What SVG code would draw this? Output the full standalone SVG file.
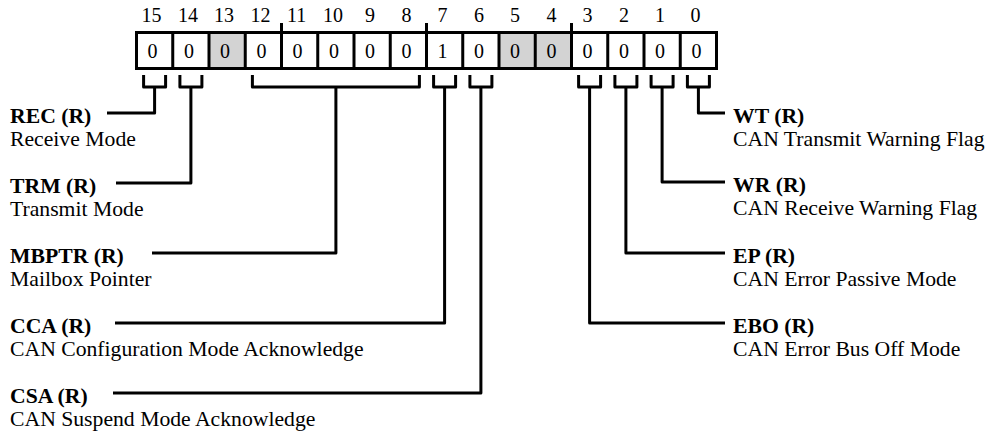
<svg xmlns="http://www.w3.org/2000/svg" width="993" height="436" viewBox="0 0 993 436">
<style>
text{font-family:"Liberation Serif","Times New Roman",serif;fill:#000}
.num{font-size:20px;text-anchor:middle}
.val{font-size:20px;text-anchor:middle}
.b{font-size:21.7px;font-weight:bold}
.d{font-size:21.7px}
.cell{fill:#fff;stroke:#000;stroke-width:3}
.res{fill:#d3d3d3}
.ln{fill:none;stroke:#000;stroke-width:3;stroke-linejoin:round}
</style>
<rect width="993" height="436" fill="#fff"/>
<g id="register">
<g id="bitnums">
<text class="num" x="151.6" y="21.5">15</text>
<text class="num" x="187.9" y="21.5">14</text>
<text class="num" x="224.1" y="21.5">13</text>
<text class="num" x="260.4" y="21.5">12</text>
<text class="num" x="296.6" y="21.5">11</text>
<text class="num" x="332.9" y="21.5">10</text>
<text class="num" x="370.1" y="21.5">9</text>
<text class="num" x="406.4" y="21.5">8</text>
<text class="num" x="442.6" y="21.5">7</text>
<text class="num" x="478.9" y="21.5">6</text>
<text class="num" x="515.1" y="21.5">5</text>
<text class="num" x="551.4" y="21.5">4</text>
<text class="num" x="587.6" y="21.5">3</text>
<text class="num" x="623.9" y="21.5">2</text>
<text class="num" x="660.1" y="21.5">1</text>
<text class="num" x="695.4" y="21.5">0</text>
</g>
<g id="cells">
<rect class="cell" x="136.5" y="32.5" width="580" height="36"/>
<rect class="res" x="209" y="32.5" width="36.25" height="36"/>
<rect class="res" x="499" y="32.5" width="72.5" height="36"/>
<path class="ln" d="M136.5 32.5H716.5V68.5H136.5Z M172.75 32.5V68.5 M209 32.5V68.5 M245.25 32.5V68.5 M281.5 23V68.5 M317.75 32.5V68.5 M354 32.5V68.5 M390.25 32.5V68.5 M426.5 23V68.5 M462.75 32.5V68.5 M499 32.5V68.5 M535.25 32.5V68.5 M571.5 23V68.5 M607.75 32.5V68.5 M644 32.5V68.5 M680.25 32.5V68.5"/>
<text class="val" x="152.6" y="58">0</text>
<text class="val" x="188.9" y="58">0</text>
<text class="val" x="225.1" y="58">0</text>
<text class="val" x="261.4" y="58">0</text>
<text class="val" x="297.6" y="58">0</text>
<text class="val" x="333.9" y="58">0</text>
<text class="val" x="370.1" y="58">0</text>
<text class="val" x="406.4" y="58">0</text>
<text class="val" x="442.6" y="58">1</text>
<text class="val" x="478.9" y="58">0</text>
<text class="val" x="515.1" y="58">0</text>
<text class="val" x="551.4" y="58">0</text>
<text class="val" x="587.6" y="58">0</text>
<text class="val" x="623.9" y="58">0</text>
<text class="val" x="660.1" y="58">0</text>
<text class="val" x="696.4" y="58">0</text>
</g>
</g>
<g id="connectors">
<path class="ln" d="M143.6 75V87H165.6V75 M154.6 87V113H107"/>
<path class="ln" d="M179.9 75V87H201.9V75 M190.9 87V183H116"/>
<path class="ln" d="M252.4 75V87H419.4V75 M335.9 87V253H152"/>
<path class="ln" d="M433.6 75V87H455.6V75 M444.6 87V323H115"/>
<path class="ln" d="M469.9 75V87H491.9V75 M480.9 87V393H113"/>
<path class="ln" d="M578.6 75V87H600.6V75 M589.6 87V323H725"/>
<path class="ln" d="M614.9 75V87H636.9V75 M625.9 87V253H725"/>
<path class="ln" d="M651.1 75V87H673.1V75 M662.1 87V182H725"/>
<path class="ln" d="M687.4 75V87H709.4V75 M698.4 87V113H725"/>
</g>
<g id="rec"><text class="b" x="10" y="122.5">REC (R)</text><text class="d" x="10" y="146">Receive Mode</text></g>
<g id="trm"><text class="b" x="10" y="192.5">TRM (R)</text><text class="d" x="10" y="216">Transmit Mode</text></g>
<g id="mbptr"><text class="b" x="10" y="262.5">MBPTR (R)</text><text class="d" x="10" y="286">Mailbox Pointer</text></g>
<g id="cca"><text class="b" x="10" y="332.5">CCA (R)</text><text class="d" x="10" y="356">CAN Configuration Mode Acknowledge</text></g>
<g id="csa"><text class="b" x="10" y="402.5">CSA (R)</text><text class="d" x="10" y="426">CAN Suspend Mode Acknowledge</text></g>
<g id="wt"><text class="b" x="733" y="122.5">WT (R)</text><text class="d" x="733" y="146">CAN Transmit Warning Flag</text></g>
<g id="wr"><text class="b" x="733" y="191.5">WR (R)</text><text class="d" x="733" y="215">CAN Receive Warning Flag</text></g>
<g id="ep"><text class="b" x="733" y="262.5">EP (R)</text><text class="d" x="733" y="286">CAN Error Passive Mode</text></g>
<g id="ebo"><text class="b" x="733" y="332.5">EBO (R)</text><text class="d" x="733" y="356">CAN Error Bus Off Mode</text></g>
</svg>
